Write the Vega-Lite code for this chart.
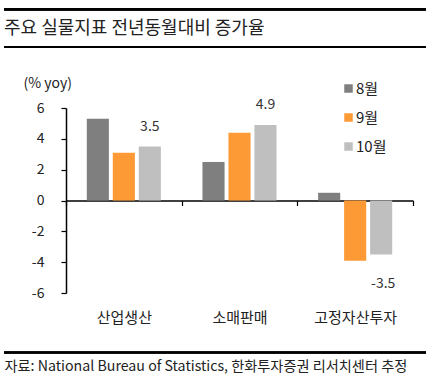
{
  "$schema": "https://vega.github.io/schema/vega-lite/v6.json",
  "autosize": "none",
  "width": 422,
  "height": 185,
  "padding": {"left": 4, "top": 108, "right": 4, "bottom": 94},
  "background": "white",
  "config": {
    "font": "Noto Sans CJK KR",
    "view": {"stroke": null}
  },
  "title": {
    "text": "주요 실물지표 전년동월대비 증가율",
    "anchor": "start",
    "frame": "group",
    "fontSize": 18,
    "fontWeight": "normal",
    "color": "#222222",
    "baseline": "middle",
    "offset": 0,
    "dy": 39
  },
  "data": {
    "values": [
      {"cat": "산업생산", "month": "8월", "value": 5.3},
      {"cat": "산업생산", "month": "9월", "value": 3.1},
      {"cat": "산업생산", "month": "10월", "value": 3.5},
      {"cat": "소매판매", "month": "8월", "value": 2.5},
      {"cat": "소매판매", "month": "9월", "value": 4.4},
      {"cat": "소매판매", "month": "10월", "value": 4.9},
      {"cat": "고정자산투자", "month": "8월", "value": 0.5},
      {"cat": "고정자산투자", "month": "9월", "value": -3.9},
      {"cat": "고정자산투자", "month": "10월", "value": -3.5}
    ]
  },
  "resolve": {"axis": {"y": "independent"}},
  "encoding": {
    "x": {
      "field": "cat",
      "type": "nominal",
      "sort": ["산업생산", "소매판매", "고정자산투자"],
      "scale": {"range": [62, 409], "paddingInner": 0, "paddingOuter": 0},
      "axis": {
        "orient": "bottom",
        "offset": -92.5,
        "domainColor": "#000000",
        "domainWidth": 1.5,
        "tickBand": "extent",
        "tickColor": "#000000",
        "tickWidth": 1.2,
        "tickSize": 5,
        "labelAngle": 0,
        "labelFontSize": 15,
        "labelColor": "#222222",
        "labelBaseline": "top",
        "labelPadding": 105,
        "title": "자료: National Bureau of Statistics, 한화투자증권 리서치센터 추정",
        "titleFontSize": 14.2,
        "titleFontWeight": "normal",
        "titleColor": "#222222",
        "titleAnchor": "start",
        "titleAlign": "left",
        "titleBaseline": "middle",
        "titleX": 0,
        "titleY": 165.5
      }
    },
    "xOffset": {
      "field": "month",
      "type": "nominal",
      "sort": ["8월", "9월", "10월"],
      "scale": {"paddingInner": 0.15, "paddingOuter": 0.8}
    }
  },
  "layer": [
    {
      "mark": {"type": "bar"},
      "encoding": {
        "y": {
          "field": "value",
          "type": "quantitative",
          "scale": {"domain": [-6, 6], "nice": false, "zero": false},
          "axis": {
            "orient": "left",
            "offset": -62,
            "values": [-6, -4, -2, 0, 2, 4, 6],
            "labelExpr": "datum.value < 0 ? '-' + abs(datum.value) : '' + datum.value",
            "labelOverlap": false,
            "labelBound": false,
            "labelFlush": false,
            "grid": false,
            "domainColor": "#000000",
            "domainWidth": 1.5,
            "tickColor": "#000000",
            "tickWidth": 1.2,
            "tickSize": 5,
            "labelFontSize": 14,
            "labelColor": "#222222",
            "labelPadding": 17,
            "title": "(% yoy)",
            "titleAngle": 0,
            "titleFontSize": 14,
            "titleFontWeight": "normal",
            "titleColor": "#222222",
            "titleAlign": "left",
            "titleBaseline": "middle",
            "titleX": -43,
            "titleY": -25
          }
        },
        "color": {
          "field": "month",
          "type": "nominal",
          "sort": ["8월", "9월", "10월"],
          "scale": {"domain": ["8월", "9월", "10월"], "range": ["#7f7f7f", "#fd9a36", "#bfbfbf"]},
          "legend": {
            "orient": "none",
            "legendX": 337,
            "legendY": -27,
            "title": null,
            "symbolType": "square",
            "symbolSize": 72,
            "symbolStrokeWidth": 0,
            "labelFontSize": 15,
            "labelColor": "#222222",
            "labelOffset": 0,
            "rowPadding": 13
          }
        }
      }
    },
    {
      "transform": [{"filter": "datum.month === '10월' && datum.value > 0"}],
      "mark": {"type": "text", "fontSize": 14, "color": "#333333", "baseline": "middle", "dy": -20},
      "encoding": {
        "y": {"field": "value", "type": "quantitative", "axis": null},
        "text": {"field": "value", "type": "nominal"}
      }
    },
    {
      "transform": [{"filter": "datum.month === '10월' && datum.value < 0"}],
      "mark": {"type": "text", "fontSize": 14, "color": "#333333", "baseline": "middle", "dy": 30, "dx": 2},
      "encoding": {
        "y": {"field": "value", "type": "quantitative", "axis": null},
        "text": {"field": "value", "type": "nominal"}
      }
    },
    {
      "mark": {"type": "rule", "color": "#000000", "strokeWidth": 2},
      "encoding": {"x": null, "xOffset": null, "y": {"datum": 12.4, "type": "quantitative", "axis": null}}
    },
    {
      "mark": {"type": "rule", "color": "#000000", "strokeWidth": 2},
      "encoding": {"x": null, "xOffset": null, "y": {"datum": 9.96, "type": "quantitative", "axis": null}}
    },
    {
      "mark": {"type": "rule", "color": "#000000", "strokeWidth": 1.5},
      "encoding": {"x": null, "xOffset": null, "y": {"datum": -9.86, "type": "quantitative", "axis": null}}
    }
  ]
}
